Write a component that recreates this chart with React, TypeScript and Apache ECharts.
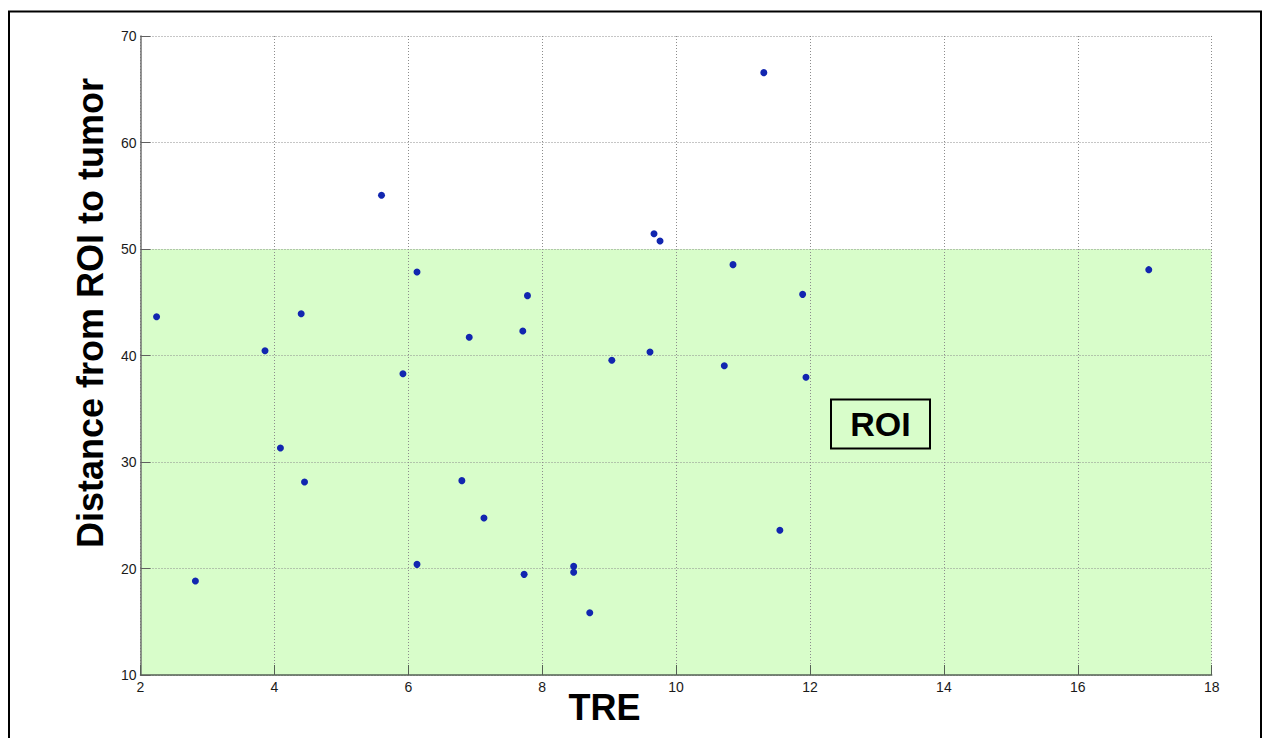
import React, { useEffect, useRef } from "react";
import * as echarts from "echarts";

const treValues = [
  2.24, 3.86, 4.40, 5.60, 6.13, 6.91,
  11.31, 9.67, 9.76, 10.85, 11.89, 7.78, 7.71, 9.61, 9.04,
  17.06,
  5.92, 4.09, 4.45, 6.80, 7.13, 6.13, 2.82,
  10.72, 11.94, 11.55, 7.73, 8.47, 8.47, 8.71,
];
const distValues = [
  43.64, 40.45, 43.92, 55.04, 47.84, 41.71,
  66.56, 51.44, 50.75, 48.53, 45.74, 45.62, 42.30, 40.33, 39.55,
  48.06,
  38.29, 31.31, 28.12, 28.25, 24.74, 20.39, 18.83,
  39.04, 37.95, 23.59, 19.45, 20.20, 19.64, 15.85,
];
const xTicks = [2, 4, 6, 8, 10, 12, 14, 16, 18];
const yTicks = [10, 20, 30, 40, 50, 60, 70];
const roiRange = [10, 50];

const FONT = "'Liberation Sans', Arial, Helvetica, sans-serif";

export default function App() {
  const ref = useRef<HTMLDivElement>(null);
  useEffect(() => {
    if (!ref.current) return;
    const chart = echarts.init(ref.current, null, { renderer: "svg" });
    const points = treValues.map((x, i) => [x, distValues[i]]);
    const gridLine = { show: true, lineStyle: { type: [1, 2], color: "#8c8c8c", width: 1 } };
    chart.setOption({
      animation: false,
      backgroundColor: "#ffffff",
      grid: { left: 140.5, right: 56.3, top: 36, bottom: 63, containLabel: false },
      xAxis: {
        type: "value",
        min: xTicks[0],
        max: xTicks[xTicks.length - 1],
        interval: 2,
        axisLine: { show: true, lineStyle: { color: "#556055", width: 1.5 } },
        axisTick: { show: true, inside: true, length: 10, lineStyle: { color: "#556055" } },
        axisLabel: { margin: 5, color: "#1a1a1a", fontSize: 14, fontFamily: FONT },
        splitLine: gridLine,
      },
      yAxis: {
        type: "value",
        min: yTicks[0],
        max: yTicks[yTicks.length - 1],
        interval: 10,
        axisLine: { show: true, lineStyle: { color: "#707070", width: 1.5 } },
        axisTick: { show: true, inside: true, length: 10, lineStyle: { color: "#606060" } },
        axisLabel: { margin: 4, color: "#1a1a1a", fontSize: 14, fontFamily: FONT },
        splitLine: gridLine,
      },
      series: [
        {
          type: "scatter",
          data: points,
          symbol: "circle",
          symbolSize: 7,
          itemStyle: { color: "#1226b0", opacity: 1 },
          markArea: {
            silent: true,
            z: -1,
            itemStyle: { color: "#d8fdca", opacity: 1 },
            data: [[{ yAxis: roiRange[0] }, { yAxis: roiRange[1] }]],
          },
        },
      ],
      graphic: [
        {
          type: "polyline",
          shape: { points: [[9, 745], [9, 11.5], [1261, 11.5], [1261, 745]] },
          style: { stroke: "#000", lineWidth: 2, fill: "none" },
          silent: true,
        },
        {
          type: "text",
          x: 90,
          y: 313,
          rotation: Math.PI / 2,
          style: {
            text: "Distance from ROI to tumor",
            font: `bold 36px ${FONT}`,
            fill: "#000",
            align: "center",
            verticalAlign: "middle",
          },
        },
        {
          type: "text",
          x: 604.5,
          y: 707,
          style: {
            text: "TRE",
            font: `bold 36px ${FONT}`,
            fill: "#000",
            align: "center",
            verticalAlign: "middle",
          },
        },
        {
          type: "rect",
          shape: { x: 831, y: 399.5, width: 99, height: 49 },
          style: { stroke: "#000", lineWidth: 2, fill: "none" },
          z: 10,
        },
        {
          type: "text",
          x: 880.5,
          y: 424,
          style: {
            text: "ROI",
            font: `bold 34px ${FONT}`,
            fill: "#000",
            align: "center",
            verticalAlign: "middle",
          },
          z: 10,
        },
      ],
    });
    return () => chart.dispose();
  }, []);
  return (
    <div
      ref={ref}
      style={{ position: "absolute", left: 0, top: 0, width: 1268, height: 738 }}
    />
  );
}
